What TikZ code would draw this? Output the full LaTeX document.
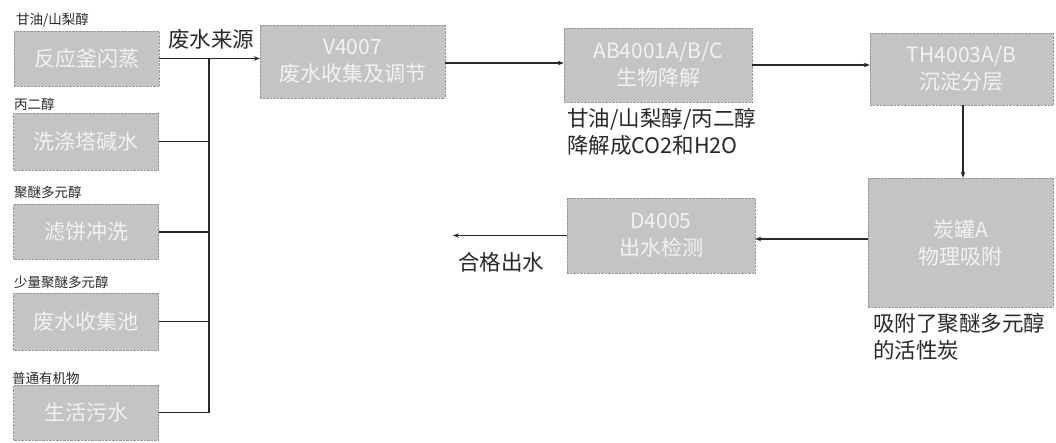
\documentclass[tikz,border=0pt]{standalone}
\usepackage{fontspec}
\setmainfont{Noto Sans CJK SC}
\usetikzlibrary{arrows.meta}
\definecolor{boxfill}{RGB}{196,196,196}
\definecolor{boxline}{RGB}{150,150,150}
\definecolor{boxtext}{RGB}{242,242,242}
\definecolor{ink}{RGB}{40,40,40}
\tikzset{
  procbox/.style={draw=boxline, densely dotted, fill=boxfill, text=boxtext, align=center,
    inner sep=0pt, font=\fontsize{21}{27}\selectfont},
  bigtext/.style={text=ink, inner sep=0pt, font=\fontsize{21.5}{27}\selectfont},
  smalltext/.style={text=ink, inner sep=0pt, anchor=west, font=\fontsize{13.5}{15}\selectfont},
  flow/.style={draw=ink, line width=1.3pt},
  flowarr/.style={flow, -{Stealth[length=6pt,width=4.5pt]}}
}
\begin{document}
\begin{tikzpicture}[x=1pt,y=-1pt]
\useasboundingbox (0,0) rectangle (1056,443);
% source boxes
\node[procbox, minimum width=145pt, minimum height=55pt] (s1) at (86.5,58.5) {反应釜闪蒸};
\node[procbox, minimum width=145pt, minimum height=57pt] (s2) at (86,141.5) {洗涤塔碱水};
\node[procbox, minimum width=145pt, minimum height=55pt] (s3) at (86,232) {滤饼冲洗};
\node[procbox, minimum width=145pt, minimum height=57pt] (s4) at (86,321.5) {废水收集池};
\node[procbox, minimum width=145pt, minimum height=55pt] (s5) at (86,412.5) {生活污水};
% small labels
\node[smalltext] (l1) at (16,20) {甘油/山梨醇};
\node[smalltext] (l2) at (14,104) {丙二醇};
\node[smalltext] (l3) at (14,192) {聚醚多元醇};
\node[smalltext] (l4) at (14,282) {少量聚醚多元醇};
\node[smalltext] (l5) at (12,378) {普通有机物};
% process boxes
\node[procbox, minimum width=185pt, minimum height=73pt] (v) at (352.5,61.5) {V4007\\废水收集及调节};
\node[procbox, minimum width=188pt, minimum height=74pt] (ab) at (658,65) {AB4001A/B/C\\生物降解};
\node[procbox, minimum width=183pt, minimum height=72pt] (th) at (961.5,69) {TH4003A/B\\沉淀分层};
\node[procbox, minimum width=185pt, minimum height=129pt] (ct) at (960.5,242.5) {炭罐A\\物理吸附};
\node[procbox, minimum width=188pt, minimum height=75pt] (d) at (661,235.5) {D4005\\出水检测};
% labels
\node[bigtext] (src) at (211,39) {废水来源};
\node[bigtext, anchor=north west, align=left] (abl) at (567,108) {甘油/山梨醇/丙二醇\\降解成CO2和H2O};
\node[bigtext, anchor=north west, align=left] (ctl) at (873,313) {吸附了聚醚多元醇\\的活性炭};
\node[bigtext] (out) at (501,262) {合格出水};
\coordinate (outend) at (453,235.5);
\coordinate (bus) at (209,0);
% connectors
\draw[flowarr] (s1.east) -- (s1.east -| v.west);
\draw[flow] (bus |- s1.east) -- (bus |- s5.east);
\draw[flow] (s2.east) -- (bus |- s2.east);
\draw[flow] (s3.east) -- (bus |- s3.east);
\draw[flow] (s4.east) -- (bus |- s4.east);
\draw[flow] (s5.east) -- (bus |- s5.east);
\draw[flowarr] (v.east |- 0,63) -- (ab.west |- 0,63);
\draw[flowarr] (ab.east) -- (th.west |- ab.east);
\draw[flowarr] (th.south -| 963,0) -- (ct.north -| 963,0);
\draw[flowarr] (ct.west |- 0,239) -- (d.east |- 0,239);
\draw[flowarr] (d.west) -- (outend);
\end{tikzpicture}
\end{document}
